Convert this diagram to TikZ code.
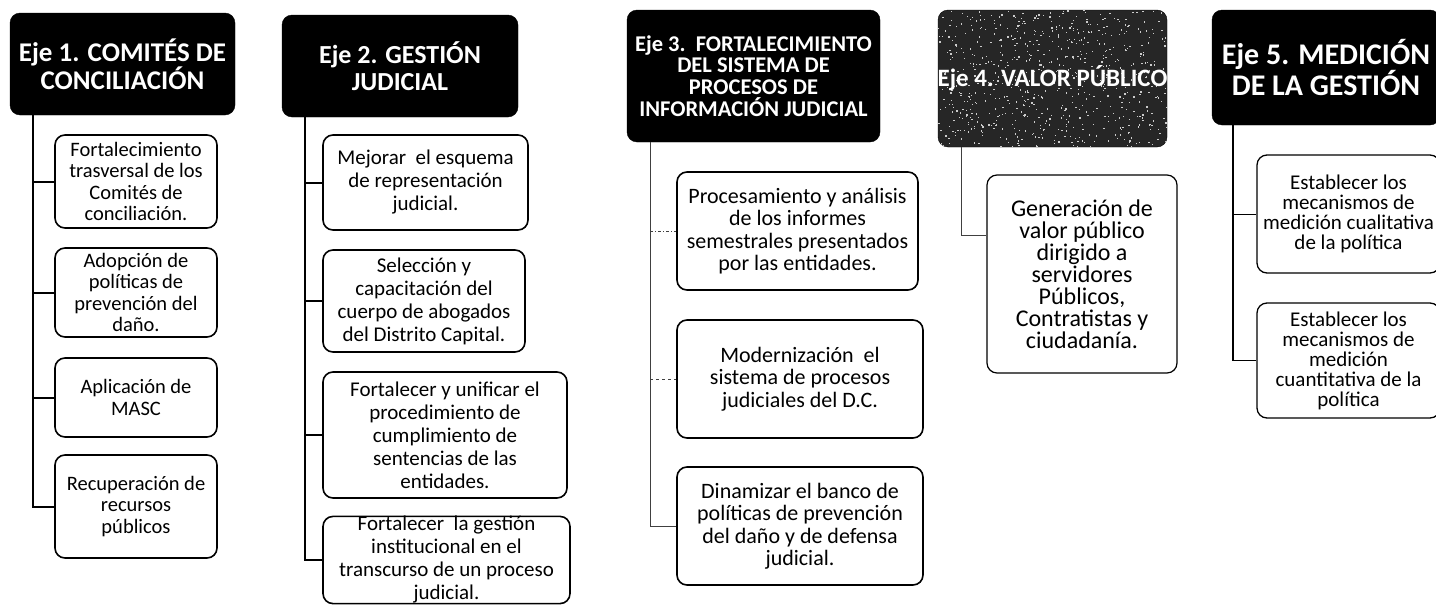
\documentclass[tikz,border=0pt]{standalone}
\usepackage{fontspec}
\setmainfont{Carlito}
\begin{document}
\begin{tikzpicture}[x=1pt,y=-1pt,
  hdr/.style={fill=black,draw=black,rounded corners=10pt,text=white,align=center,
    font=\bfseries\fontsize{27}{27}\selectfont,inner sep=0pt},
  itembox/.style={draw=black,line width=1.6pt,rounded corners=10pt,fill=white,align=center,inner sep=0pt},
  thick1/.style={line width=2pt,black},
  thin1/.style={line width=1pt,black!75},
]
\useasboundingbox (0,0) rectangle (1436,605);
\clip (0,0) rectangle (1436,605);
\fill[white] (0,0) rectangle (1436,605);

% ---------- Column 1 ----------
\node[hdr,minimum width=225pt,minimum height=102pt] (h1) at (122.5,64) {Eje 1. COMITÉS DE\\CONCILIACIÓN};
\coordinate (v1) at (33,115);
\begin{scope}[every node/.append style={itembox,minimum width=162pt,font=\fontsize{20.5}{21.5}\selectfont}]
\node[minimum height=93pt] (b11) at (136,181.5) {Fortalecimiento\\trasversal de los\\Comités de\\conciliación.};
\node[minimum height=89pt] (b12) at (136,292.5) {Adopción de\\políticas de\\prevención del\\daño.};
\node[minimum height=79pt] (b13) at (136,397.5) {Aplicación de\\MASC};
\node[minimum height=103pt] (b14) at (136,506.5) {Recuperación de\\recursos\\públicos};
\end{scope}
\draw[thick1] (v1) |- (b14.west);
\draw[thick1] (v1 |- b11.west) -- (b11.west);
\draw[thick1] (v1 |- b12.west) -- (b12.west);
\draw[thick1] (v1 |- b13.west) -- (b13.west);

% ---------- Column 2 ----------
\node[hdr,minimum width=236pt,minimum height=102pt,font=\bfseries\fontsize{26}{27}\selectfont] (h2) at (400,66) {Eje 2. GESTIÓN\\JUDICIAL};
\coordinate (v2) at (305,117);
\begin{scope}[every node/.append style={itembox,font=\fontsize{21}{23}\selectfont}]
\node[minimum width=205pt,minimum height=95pt] (b21) at (425.5,182.5) {Mejorar\ \ el esquema\\de representación\\judicial.};
\node[minimum width=202pt,minimum height=102pt] (b22) at (424,301) {Selección y\\capacitación del\\cuerpo de abogados\\del Distrito Capital.};
\node[minimum width=244pt,minimum height=126pt] (b23) at (445,435) {Fortalecer y unificar el\\procedimiento de\\cumplimiento de\\sentencias de las\\entidades.};
\node[minimum width=247pt,minimum height=86pt] (b24) at (446.5,560) {Fortalecer\ \ la gestión\\institucional en el\\transcurso de un proceso\\judicial.};
\end{scope}
\draw[thick1] (v2) |- (b24.west);
\draw[thick1] (v2 |- b21.west) -- (b21.west);
\draw[thick1] (v2 |- b22.west) -- (b22.west);
\draw[thick1] (v2 |- b23.west) -- (b23.west);

% ---------- Column 3 ----------
\node[hdr,minimum width=253pt,minimum height=132pt,font=\bfseries\fontsize{22.5}{21.7}\selectfont] (h3) at (753.5,76) {Eje 3.\ \ FORTALECIMIENTO\\DEL SISTEMA DE\\PROCESOS DE\\INFORMACIÓN JUDICIAL};
\coordinate (v3) at (650,142);
\begin{scope}[every node/.append style={itembox,font=\fontsize{22}{22.5}\selectfont}]
\node[minimum width=241pt,minimum height=118pt] (b31) at (797.5,231) {Procesamiento y análisis\\de los informes\\semestrales presentados\\por las entidades.};
\node[minimum width=246pt,minimum height=118pt] (b32) at (800,379) {Modernización\ \ el\\sistema de procesos\\judiciales del D.C.};
\node[minimum width=246pt,minimum height=118pt] (b33) at (800,526) {Dinamizar el banco de\\políticas de prevención\\del daño y de defensa\\judicial.};
\end{scope}
\draw[thin1] (v3) |- (b33.west);
\draw[thin1,dash dot] (v3 |- b31.west) -- (b31.west);
\draw[thin1,dashed] (v3 |- b32.west) -- (b32.west);

% ---------- Column 4 ----------
\path[fill=black!85,draw=black,rounded corners=10pt] (938,10) rectangle (1167,147);
\begin{scope}
\clip[rounded corners=10pt] (938,10) rectangle (1167,147);
\pgfmathsetseed{7}
\foreach \i in {1,...,700}{
  \pgfmathsetmacro{\rx}{938+229*rnd}
  \pgfmathsetmacro{\ry}{10+137*rnd}
  \fill[white!80!black] (\rx,\ry) rectangle ++(1.3,1.3);
}
\end{scope}
\node[hdr,fill=none,draw=none,minimum width=229pt,minimum height=137pt,font=\bfseries\fontsize{25}{27}\selectfont] (h4) at (1052.5,78.5) {Eje 4. VALOR PÚBLICO};
\coordinate (v4) at (961,147);
\node[itembox,line width=1.2pt,minimum width=190pt,minimum height=198pt,font=\fontsize{24}{22}\selectfont] (b41) at (1082,274) {Generación de\\valor público\\dirigido a\\servidores\\Públicos,\\Contratistas y\\ciudadanía.};
\draw[thin1] (v4) |- ([yshift=39pt]b41.west);

% ---------- Column 5 ----------
\node[hdr,minimum width=228pt,minimum height=115pt,font=\bfseries\fontsize{30}{28}\selectfont] (h5) at (1326,67.5) {Eje 5. MEDICIÓN\\DE LA GESTIÓN};
\coordinate (v5) at (1233,125);
\begin{scope}[every node/.append style={itembox,line width=1.3pt,minimum width=183pt,font=\fontsize{21}{20}\selectfont}]
\node[minimum height=118pt] (b51) at (1348.5,214) {Establecer los\\mecanismos de\\medición cualitativa\\de la política};
\node[minimum height=115pt] (b52) at (1348.5,360.5) {Establecer los\\mecanismos de\\medición\\cuantitativa de la\\política};
\end{scope}
\draw[line width=1.5pt] (v5) |- (b52.west);
\draw[line width=1pt] (v5 |- b51.west) -- (b51.west);
\end{tikzpicture}
\end{document}
